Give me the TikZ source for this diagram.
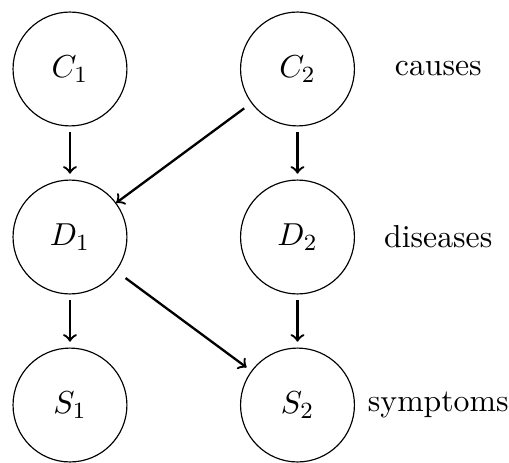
\documentclass[tikz,border=0pt]{standalone}
\usepackage{tikz}
\usetikzlibrary{arrows}
\tikzstyle{var} = [circle, minimum size=1.38cm, inner sep=0pt, draw=black,
font=\fontsize{10.95}{13}\selectfont]
\tikzstyle{layer} = [draw=none, text centered,
font=\fontsize{10.95}{13}\selectfont]
\tikzstyle{arrow} = [thick,->,>=to]

\begin{document}
\begin{tikzpicture}[node distance=2.036cm]
            \useasboundingbox (-0.848,0.836) rectangle (5.32,-4.763);
            % Variables
            \node[var] (c1) {$C_1$};
            \node[var, right of=c1, xshift=0.721cm] (c2) {$C_2$};
            \node[var, below of=c1] (d1) {$D_1$};
            \node[var, below of=c2] (d2) {$D_2$};
            \node[var, below of=d1] (s1) {$S_1$};
            \node[var, below of=d2] (s2) {$S_2$};
            % Layer names
            \node[layer, right of=c2, xshift=-0.33cm] (causes) {causes};
            \node[layer, right of=d2, xshift=-0.33cm] (diseases) {diseases};
            \node[layer, right of=s2, xshift=-0.33cm] (symptoms) {symptoms};
            % Arrows
            \draw[arrow, shorten <=2pt, shorten >=2pt] (c1) -- (d1);
            \draw[arrow, shorten <=2pt, shorten >=2pt] (c2) -- (d2);
            \draw[arrow, shorten <=3pt] (c2) -- (d1);
            \draw[arrow, shorten <=2pt, shorten >=2pt] (d1) -- (s1);
            \draw[arrow, shorten <=2pt, shorten >=2pt] (d2) -- (s2);
            \draw[arrow, shorten <=4pt, shorten >=2pt] (d1) -- (s2);

        \end{tikzpicture}
\end{document}
